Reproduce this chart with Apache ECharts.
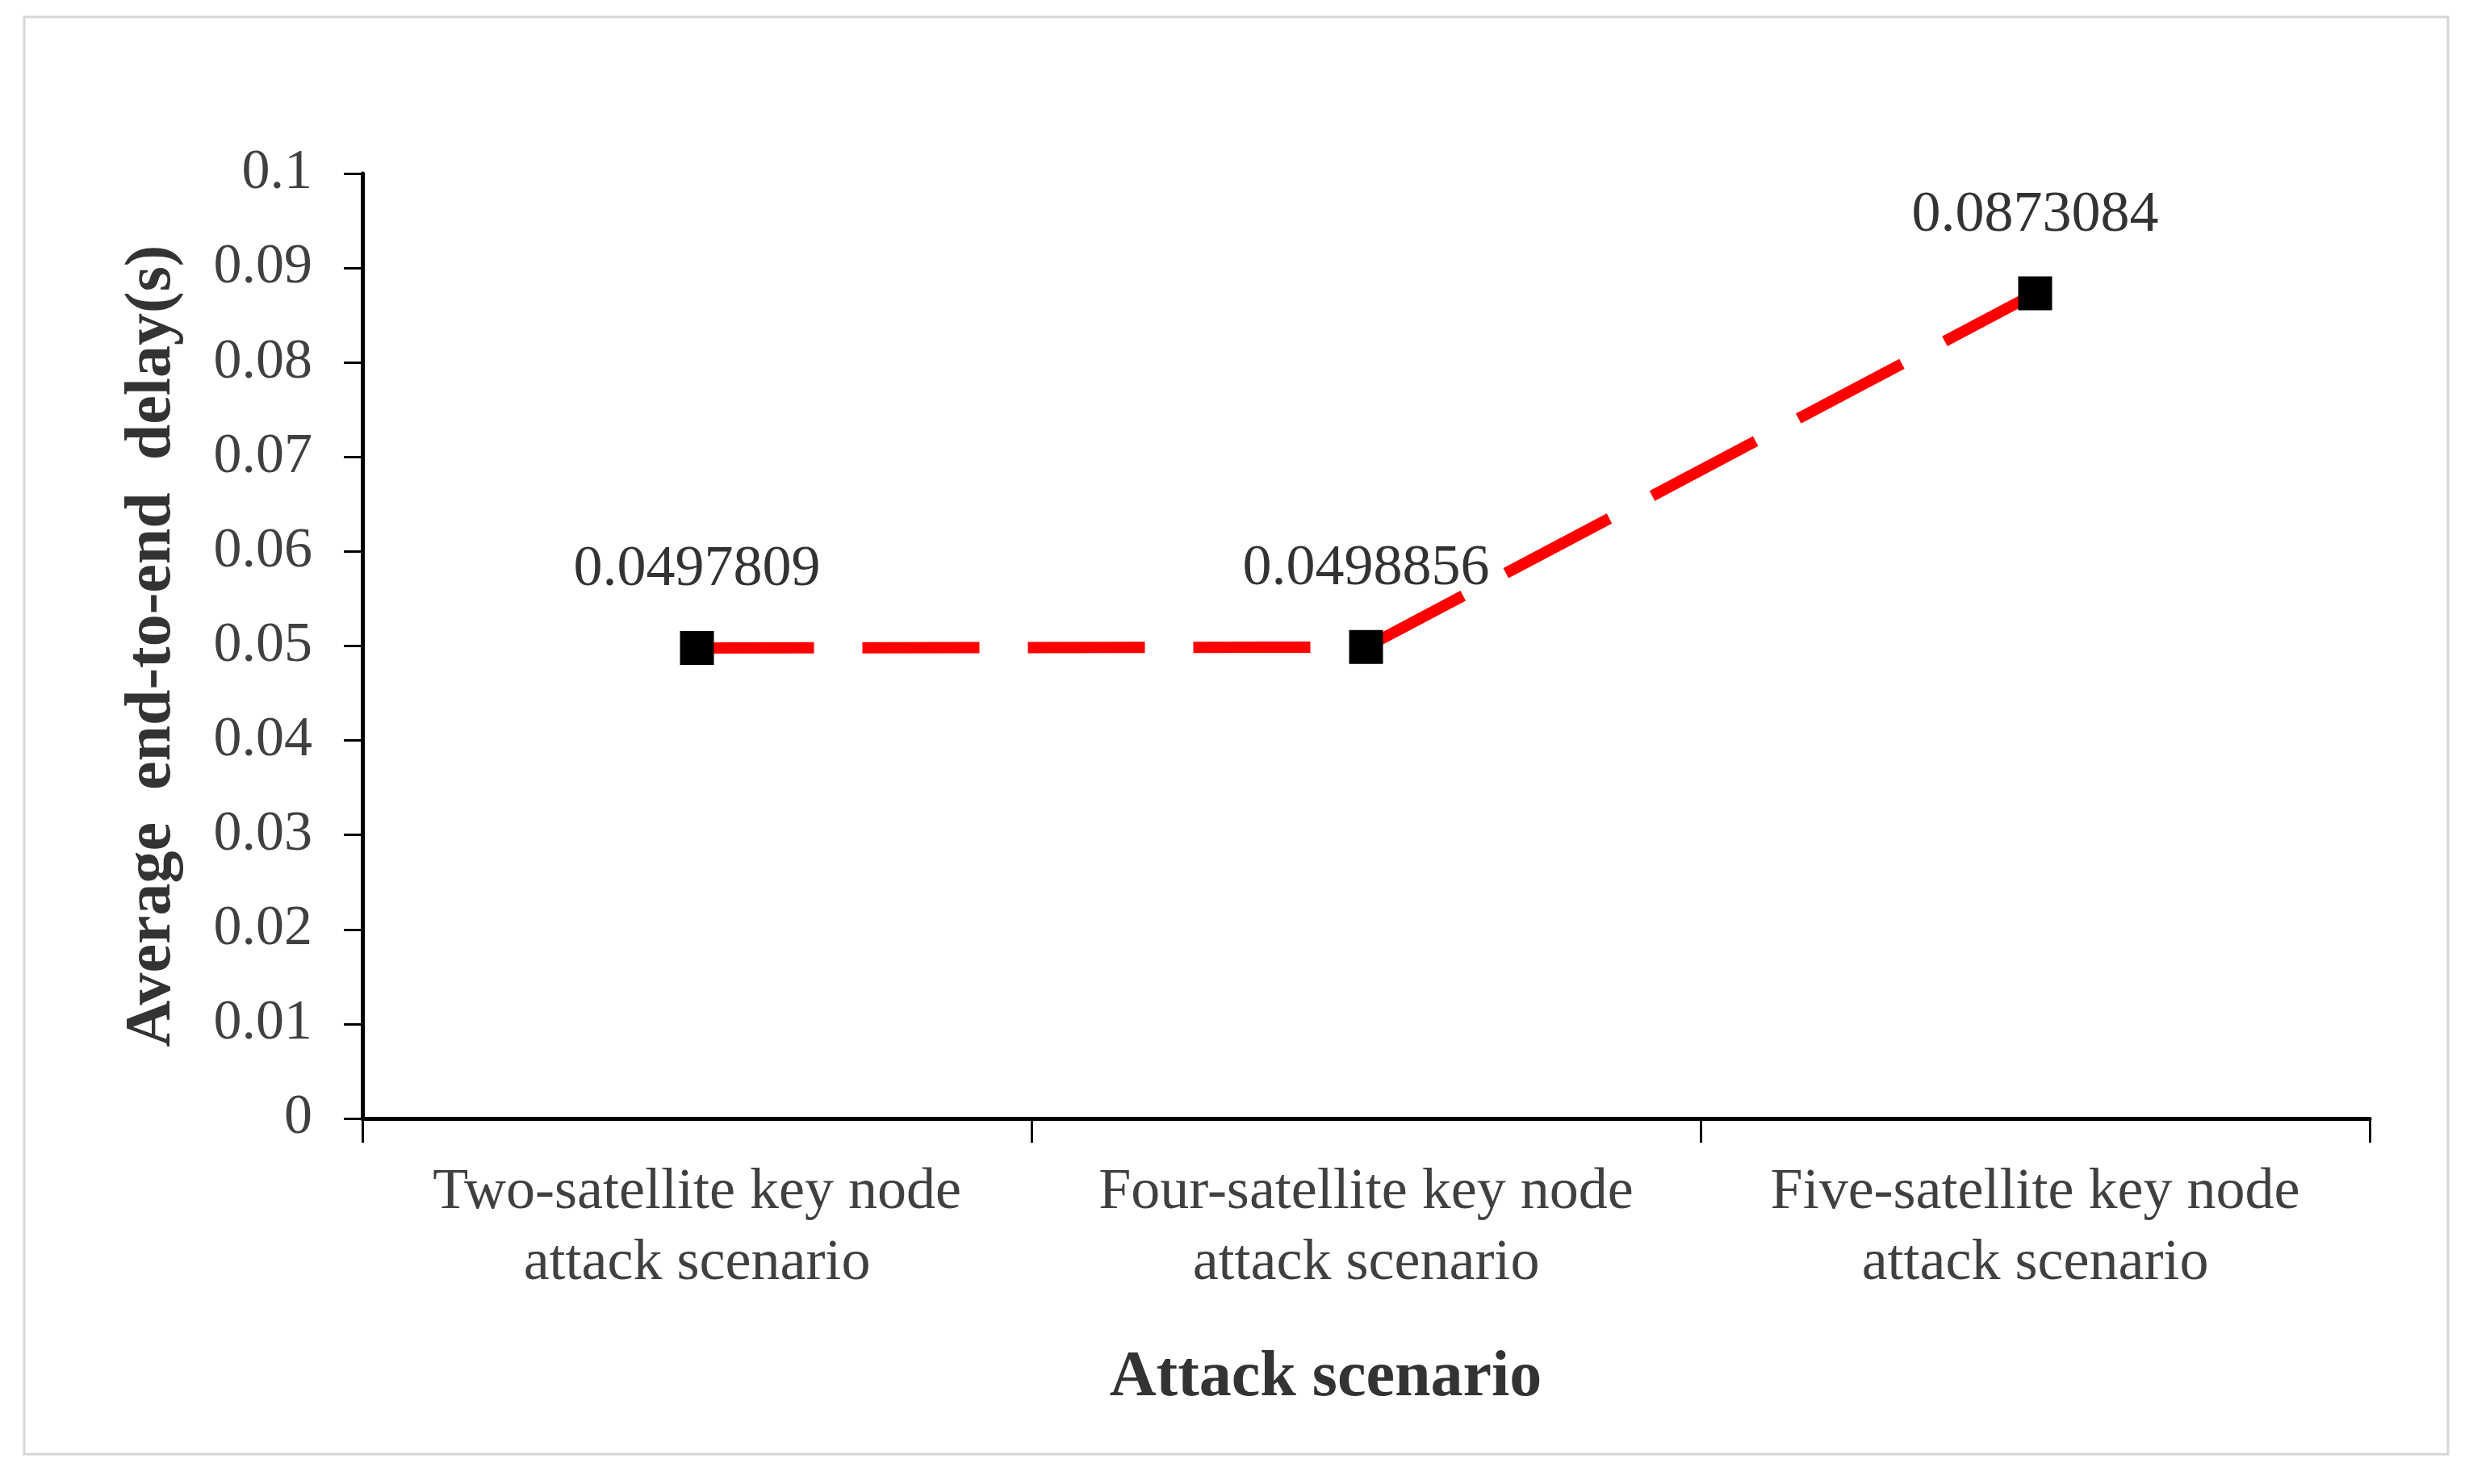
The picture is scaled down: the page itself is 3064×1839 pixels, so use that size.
<!DOCTYPE html>
<html>
<head>
<meta charset="utf-8">
<title>Average end-to-end delay</title>
<script src="https://cdn.jsdelivr.net/npm/echarts@6/dist/echarts.min.js"></script>
<style>
    html, body { margin: 0; padding: 0; background: #fff; }
    #chart { width: 3064px; height: 1839px; }
</style>
</head>
<body>
<div id="chart"></div>
<script>
// 攻击场景（横轴类别）
const scenarios = [
    'Two-satellite key node\nattack scenario',
    'Four-satellite key node\nattack scenario',
    'Five-satellite key node\nattack scenario'
];
// 平均端到端时延 (s)
const delayValues = [0.0497809, 0.0498856, 0.0873084];
// 纵轴刻度
const yMin = 0;
const yMax = 0.1;
const yStep = 0.01;

const serif = '"Liberation Serif", "Times New Roman", serif';

const chart = echarts.init(document.getElementById('chart'));

const option = {
    backgroundColor: '#fff',
    animation: false,
    graphic: [{
        type: 'rect',
        shape: { x: 30, y: 21, width: 3003, height: 1781 },
        style: { fill: 'none', stroke: '#d6d6d6', lineWidth: 3 },
        silent: true
    }],
    grid: { left: 449, right: 128, top: 215, bottom: 453 },
    xAxis: {
        type: 'category',
        data: scenarios,
        boundaryGap: true,
        name: 'Attack scenario',
        nameLocation: 'middle',
        nameGap: 282,
        nameTextStyle: {
            fontFamily: serif, fontSize: 80, fontWeight: 'bold', color: '#333',
            padding: [0, 100, 0, 0]
        },
        axisLine: { lineStyle: { color: '#000', width: 5 } },
        axisTick: { show: true, inside: false, length: 30, lineStyle: { color: '#000', width: 3 } },
        axisLabel: {
            fontFamily: serif, fontSize: 72, color: '#404040',
            lineHeight: 88, margin: 48, interval: 0
        },
        splitLine: { show: false }
    },
    yAxis: {
        type: 'value',
        min: yMin,
        max: yMax,
        interval: yStep,
        name: 'Average  end-to-end  delay(s)',
        nameLocation: 'middle',
        nameGap: 220,
        nameTextStyle: { fontFamily: serif, fontSize: 80, fontWeight: 'bold', color: '#333' },
        axisLine: { show: true, lineStyle: { color: '#000', width: 5 } },
        axisTick: { show: true, inside: false, length: 23, lineStyle: { color: '#000', width: 3 } },
        axisLabel: {
            fontFamily: serif, fontSize: 70, color: '#404040', margin: 62,
            formatter: v => String(Math.round(v * 100) / 100)
        },
        splitLine: { show: false }
    },
    series: [{
        type: 'line',
        data: delayValues,
        symbol: 'rect',
        symbolSize: 42,
        itemStyle: { color: '#000' },
        lineStyle: { color: '#ff0000', width: 14, type: [145, 60], cap: 'butt' },
        label: {
            show: true,
            position: 'top',
            distance: 40,
            fontFamily: serif,
            fontSize: 72,
            color: '#333',
            formatter: p => String(p.value)
        },
        z: 3
    }]
};

chart.setOption(option);
</script>
</body>
</html>
